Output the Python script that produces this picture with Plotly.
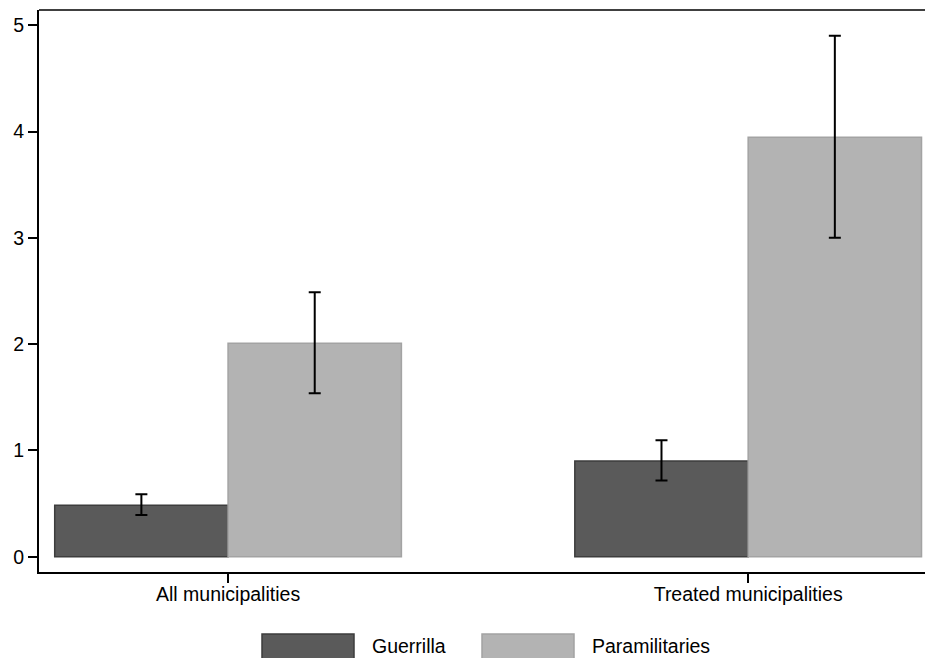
import plotly.graph_objects as go

categories = ["All municipalities", "Treated municipalities"]
guerrilla = [0.484, 0.901]
guerrilla_hi = [0.588, 1.096]
guerrilla_lo = [0.393, 0.717]
paramilitaries = [2.008, 3.946]
param_hi = [2.488, 4.90]
param_lo = [1.538, 3.0]
y_ticks = [0, 1, 2, 3, 4, 5]

x_pos = [0, 1]
bar_w = 0.3333
off = bar_w / 2

font = dict(family="Liberation Sans, Arial, sans-serif", size=19.5, color="#000000")

fig = go.Figure()
fig.add_trace(go.Bar(
    x=[p - off for p in x_pos], y=guerrilla, width=bar_w, name="Guerrilla",
    marker=dict(color="#5a5a5a", line=dict(color="#3d3d3d", width=1.5)),
    error_y=dict(type="data", symmetric=False,
                 array=[h - v for h, v in zip(guerrilla_hi, guerrilla)],
                 arrayminus=[v - l for v, l in zip(guerrilla, guerrilla_lo)],
                 color="#000000", thickness=2, width=6),
))
fig.add_trace(go.Bar(
    x=[p + off for p in x_pos], y=paramilitaries, width=bar_w, name="Paramilitaries",
    marker=dict(color="#b3b3b3", line=dict(color="#a3a3a3", width=1.5)),
    error_y=dict(type="data", symmetric=False,
                 array=[h - v for h, v in zip(param_hi, paramilitaries)],
                 arrayminus=[v - l for v, l in zip(paramilitaries, param_lo)],
                 color="#000000", thickness=2, width=6),
))

fig.update_layout(
    width=925, height=658,
    margin=dict(l=39, r=0, t=10, b=86),
    paper_bgcolor="white", plot_bgcolor="white",
    showlegend=False, barmode="overlay", font=font,
    xaxis=dict(range=[-0.3635, 1.340], tickvals=x_pos, ticktext=categories,
               showgrid=False, zeroline=False, showline=True, linecolor="#000000",
               linewidth=2, ticks="outside", ticklen=9, tickwidth=1.5,
               tickcolor="#000000", tickfont=font, ticklabelstandoff=-5),
    yaxis=dict(range=[-0.144, 5.143], tickvals=y_ticks,
               showgrid=False, zeroline=False, showline=True, linecolor="#000000",
               linewidth=2, ticks="outside", ticklen=9, tickwidth=1.5,
               tickcolor="#000000", tickfont=font),
)

# top border of the plot region
fig.add_shape(type="line", xref="paper", yref="paper", x0=0, x1=1, y0=1, y1=1,
              line=dict(color="#000000", width=1.5))

# legend keys drawn as wide swatches below the axis
legend_items = [("Guerrilla", "#5a5a5a", "#3d3d3d", 262, 354, 370),
                ("Paramilitaries", "#b3b3b3", "#a3a3a3", 482, 574, 590)]
plot_w = 925 - 39
plot_h = 658 - 10 - 86
for label, fill, edge, px0, px1, tx in legend_items:
    fig.add_shape(type="rect", xref="paper", yref="paper",
                  x0=(px0 - 39) / plot_w, x1=(px1 - 39) / plot_w,
                  y0=(572 - 660) / plot_h, y1=(572 - 634) / plot_h,
                  fillcolor=fill, line=dict(color=edge, width=1.5), layer="above")
    fig.add_annotation(xref="paper", yref="paper", x=(tx - 39) / plot_w,
                       y=(572 - 646) / plot_h, text=label, showarrow=False,
                       xanchor="left", yanchor="middle", font=font)

fig.write_html("out.html")
